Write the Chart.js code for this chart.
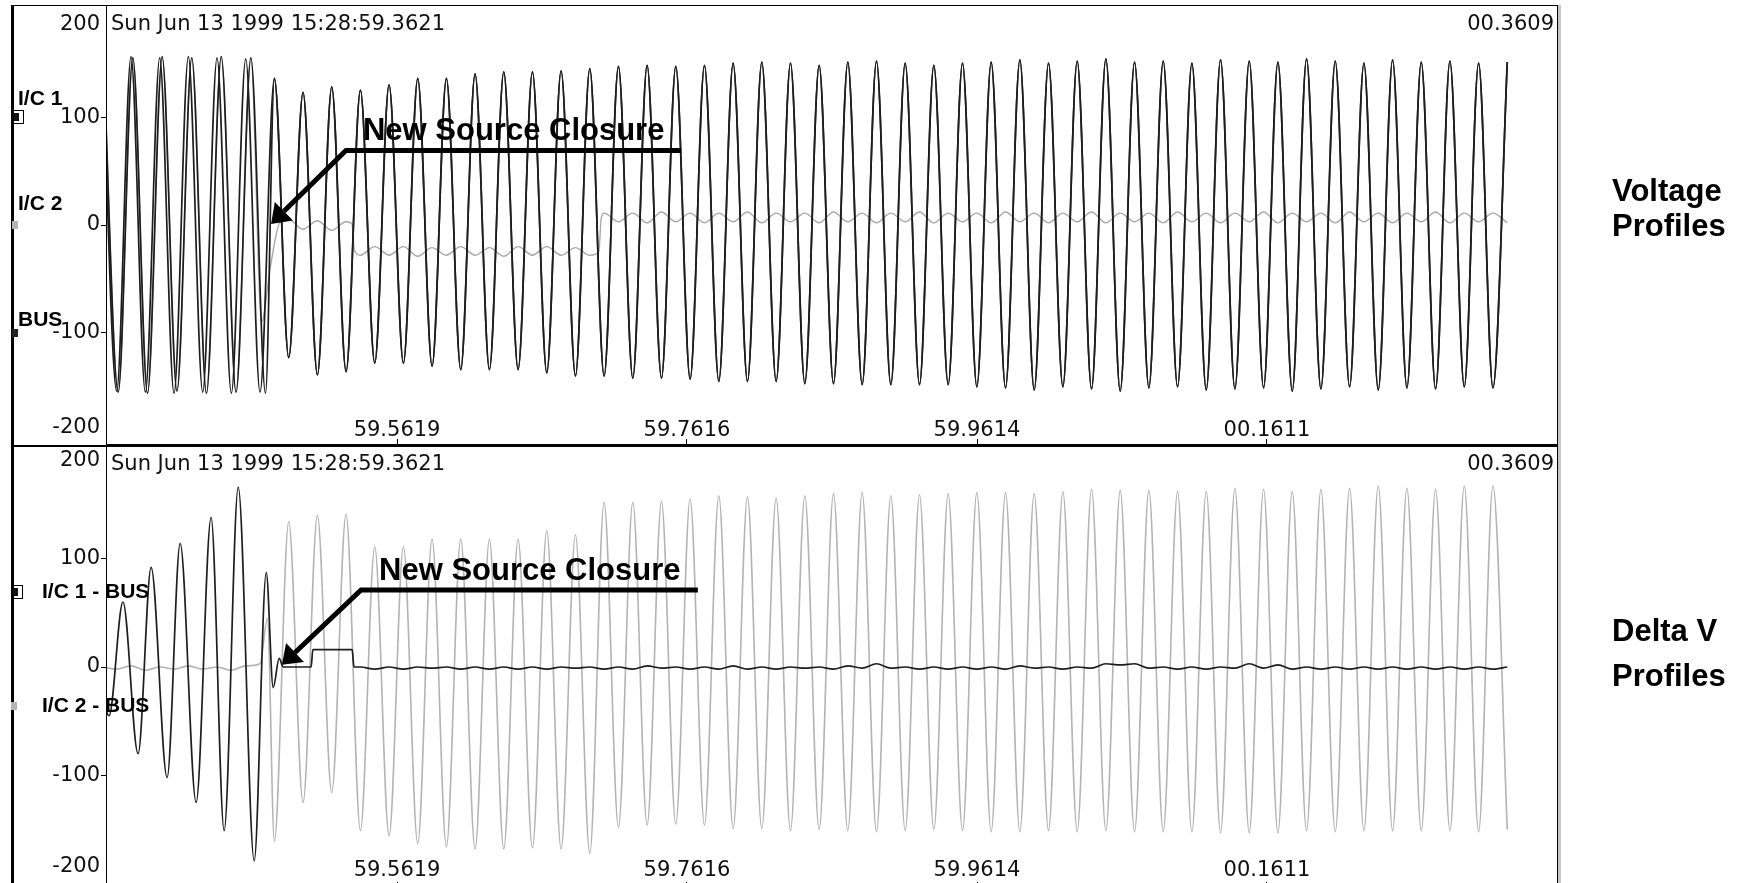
<!DOCTYPE html>
<html>
<head>
<meta charset="utf-8">
<title>Voltage and Delta V profiles</title>
<script src="https://cdn.jsdelivr.net/npm/chart.js@4.4.1/dist/chart.umd.min.js"></script>
<style>
  html, body { margin: 0; padding: 0; background: #fff; overflow: hidden; }
  body { width: 1737px; height: 883px; position: relative; }
  .panel { position: absolute; left: 0; width: 1737px; height: 445px; }
  #top { top: 0; }
  #bottom { top: 444px; }
  .side { position: absolute; left: 1612px; font: bold 31px 'Liberation Sans', Arial, sans-serif; color: #000; }
</style>
</head>
<body>
<div class="panel" id="top"><canvas id="voltage"></canvas></div>
<div class="panel" id="bottom"><canvas id="delta"></canvas></div>
<div class="side" style="top: 173px; line-height: 35px">Voltage<br>Profiles</div>
<div class="side" style="top: 608px; line-height: 45px">Delta V<br>Profiles</div>

<script>
Chart.defaults.font.family = "'DejaVu Sans', sans-serif";

// time axis in ms after 15:28:59.3621
const X_MIN = 0, X_MAX = 998.8;
const Y_MIN = -203, Y_MAX = 203;
// crests and troughs sit on a half-cycle grid: first I/C 1 crest, spacing
const T0 = -3.2, HALF = 9.875;

const xTickValues = [199.8, 399.5, 599.3, 799.0];
const xTickLabels = ['59.5619', '59.7616', '59.9614', '00.1611'];
const yTickValues = [-100, 0, 100];
const yEdgeValues = [200, -200];
const headerLeft = 'Sun Jun 13 1999 15:28:59.3621';
const headerRight = '00.3609';
const closureText = 'New Source Closure';

// I/C 1 crest/trough values, one per half cycle (k = 0..98)
const ic1Values = [
  155, -154, 156, -155, 155, -156, 156, -155, 155, -156, 154, -155,
  136, -123, 123, -139, 128, -136, 125, -128, 130, -128,
  136, -131, 136, -134, 140, -134, 142, -134, 142, -137,
  143, -140, 145, -140, 147, -142, 148, -142, 147, -143,
  148, -145, 150, -145, 151, -145, 150, -147, 148, -147,
  151, -148, 152, -148, 150, -148, 148, -148, 150, -150,
  151, -151, 153, -153, 150, -150, 152, -152, 154, -154,
  151, -151, 152, -150, 150, -153, 153, -152, 152, -151,
  151, -154, 154, -152, 152, -150, 150, -153, 153, -151,
  151, -152, 152, -150, 150, -151, 151
];

// BUS before closure lags I/C 1 a little more every cycle
const busPreTimes = [-2.4, 7.7, 17.8, 27.9, 38.0, 48.2, 58.4, 68.5, 78.7, 88.9, 99.1, 109.2];
const busPreValues = [154, -155, 155, -156, 156, -154, 155, -156, 156, -155, 155, -156];

// I/C 2 leaves the bus at closure, then small ripple with two level steps
const ic2TransTimes = [106.5, 112.5, 119.0, 168.8, 170.3, 338.8, 340.4];
const ic2TransValues = [-90, -39, 2, 1, -23, -25, 6];
const ic2Values = [ // k = 13..98
  5, -4, 4, -5, 3,
  -28, -20, -28, -20, -29, -21, -28, -20, -28, -21, -29, -20, -28, -20, -28, -21, -28,
  11, 3, 11, 2, 12, 3, 11, 2, 11, 3, 12, 2, 11, 3, 11, 2, 12, 3, 11, 2, 11, 3, 12, 2, 11, 3, 11, 2, 12, 3, 11, 2,
  11, 3, 12, 2, 11, 3, 11, 2, 12, 3, 11, 2, 11, 3, 12, 2, 11, 3, 11, 2, 12, 3, 11, 2, 11, 3, 12, 2, 11, 3, 11, 2
];

// I/C 1 - BUS: growing beat before closure, then almost flat
const diff1PreTimes = [-8.6, 1.4, 11.0, 21.4, 30.4, 41.4, 50.4, 61.4, 71.7, 80.7, 90.4, 101.4,
  109.7, 114.5, 118.6, 121.4, 140.6, 141.8, 168.9, 170.1];
const diff1PreValues = [30, -45, 60, -80, 92, -102, 114, -125, 138, -151, 166, -179,
  87, -19, 8, 0, 0, 16, 16, 0];
const diff1Values = [ // k = 18..98
  0, -2, 0, -2, 0, -1, 0, -2, 0, -2,
  0, -2, 0, -2, 0, -1, 0, -2, 0, -2,
  1, -1, 0, -2, 0, -2, 1, -2, 0, -2,
  0, -1, 0, -2, 1, -1, 3, -1, 0, -2,
  0, -2, 0, -2, 0, -2, 1, -1, 0, -2,
  0, -1, 3, 2, 3, -1, 0, -2, 0, -2,
  0, -1, 3, -1, 2, -2, 0, -2, 0, -2,
  0, -2, 0, -2, 0, -2, 0, -2, 0, -2,
  0
];

// I/C 2 - BUS: flat before closure, full swing after
const diff2SpikeTimes = [110.5];
const diff2SpikeValues = [45];
const diff2Values = [ // k = 0..98
  0, -2, 1, -3, 0, -2, 1, -2, 0, -3, 1, 3,
  -161, 134, -125, 140, -116, 141, -151, 111, -156, 111,
  -163, 118, -166, 118, -168, 118, -168, 118, -167, 126,
  -168, 122, -172, 152, -148, 152, -146, 153, -145, 155,
  -146, 158, -149, 157, -149, 156, -151, 158, -150, 160,
  -151, 161, -152, 158, -151, 159, -150, 160, -151, 161,
  -152, 161, -152, 160, -151, 162, -152, 164, -151, 163,
  -152, 163, -152, 162, -152, 162, -153, 165, -153, 164,
  -153, 162, -151, 164, -152, 165, -151, 167, -151, 165,
  -151, 164, -151, 167, -152, 167, -150
];

function gridPoints(values, firstK) {
  return values.map((v, i) => ({ x: T0 + (firstK + i) * HALF, y: v }));
}
function listPoints(times, values) {
  return times.map((t, i) => ({ x: t, y: values[i] }));
}
function byX(points) {
  return points.sort((a, b) => a.x - b.x);
}

const ic1Data = gridPoints(ic1Values, 0);
const busData = byX([...listPoints(busPreTimes, busPreValues), ...gridPoints(ic1Values.slice(12), 12)]);
const ic2Data = byX([
  ...listPoints(busPreTimes.slice(0, 11), busPreValues.slice(0, 11)),
  ...listPoints(ic2TransTimes, ic2TransValues),
  ...gridPoints(ic2Values, 13)
]);
const diff1Data = byX([...listPoints(diff1PreTimes, diff1PreValues), ...gridPoints(diff1Values, 18)]);
const diff2Data = byX([...gridPoints(diff2Values, 0), ...listPoints(diff2SpikeTimes, diff2SpikeValues)]);

const DARK = '#1e1e1e';
const tickFont = { size: 21 };

function drawMarker(ctx, kind, x, y) {
  if (kind === 'box') {
    ctx.strokeStyle = '#000';
    ctx.lineWidth = 1;
    ctx.strokeRect(x + 0.5, Math.round(y) - 6.5, 11, 13);
    ctx.fillStyle = '#111';
    ctx.fillRect(x + 2, Math.round(y) - 4, 5, 8);
  } else {
    ctx.fillStyle = kind === 'gray' ? '#b5b5b5' : '#222';
    ctx.fillRect(x, Math.round(y) - 4, 6, 8);
  }
}

const decor = {
  id: 'decor',
  afterDatasetsDraw(chart, args, o) {
    const ctx = chart.ctx, xs = chart.scales.x, ys = chart.scales.y;
    const px = p => [xs.getPixelForValue(p[0]), ys.getPixelForValue(p[1])];
    const end = px(o.arrow.end), elbow = px(o.arrow.elbow), tip = px(o.arrow.tip);
    const ang = Math.atan2(tip[1] - elbow[1], tip[0] - elbow[0]);
    const head = 18, half = 13;
    const base = [tip[0] - head * Math.cos(ang), tip[1] - head * Math.sin(ang)];
    ctx.save();
    ctx.strokeStyle = '#000';
    ctx.fillStyle = '#000';
    ctx.lineWidth = 5;
    ctx.beginPath();
    ctx.moveTo(end[0], end[1]);
    ctx.lineTo(elbow[0], elbow[1]);
    ctx.lineTo(base[0], base[1]);
    ctx.stroke();
    ctx.beginPath();
    ctx.moveTo(tip[0], tip[1]);
    ctx.lineTo(base[0] + half * Math.sin(ang), base[1] - half * Math.cos(ang));
    ctx.lineTo(base[0] - half * Math.sin(ang), base[1] + half * Math.cos(ang));
    ctx.closePath();
    ctx.fill();
    const lp = px(o.arrow.label);
    ctx.font = "bold 31px 'Liberation Sans', Arial";
    ctx.textAlign = 'left';
    ctx.textBaseline = 'middle';
    ctx.fillText(closureText, lp[0], lp[1]);
    ctx.restore();
  },
  afterDraw(chart, args, o) {
    const ctx = chart.ctx, a = chart.chartArea, ys = chart.scales.y;
    ctx.save();
    // plot frame, shadow and outer rules
    ctx.fillStyle = '#c6c6c6';
    ctx.fillRect(a.right + 1, a.top - o.topRule, 3, a.bottom - a.top + o.topRule + 1);
    ctx.strokeStyle = '#000';
    ctx.lineWidth = 1;
    ctx.strokeRect(a.left - 0.5, a.top - 0.5, a.right - a.left + 1, a.bottom - a.top + 1);
    ctx.fillStyle = '#000';
    ctx.fillRect(11, a.top - o.topRule, a.right - 10, o.topRule);
    ctx.fillRect(11, a.top - o.topRule, 3, chart.height);

    ctx.fillStyle = '#111';
    ctx.font = "21px 'DejaVu Sans'";
    ctx.textBaseline = 'middle';
    ctx.textAlign = 'left';
    ctx.fillText(headerLeft, a.left + 4, a.top + o.headerDy);
    ctx.textAlign = 'right';
    ctx.fillText(headerRight, a.right - 3, a.top + o.headerDy);
    yEdgeValues.forEach((v, i) => {
      ctx.fillText(String(v), a.left - 7, ys.getPixelForValue(v) + o.edgeDy[i]);
    });

    ctx.font = "bold 21px 'Liberation Sans', Arial";
    ctx.textAlign = 'left';
    o.legend.forEach(item => {
      ctx.fillStyle = '#000';
      ctx.fillText(item.text, o.legendTextX, ys.getPixelForValue(item.textAt));
      drawMarker(ctx, item.mark, o.legendMarkX, ys.getPixelForValue(item.markAt));
    });
    ctx.restore();
  }
};

function panelOptions(cfg) {
  return {
    responsive: true,
    maintainAspectRatio: false,
    animation: false,
    events: [],
    layout: { padding: { top: cfg.padTop, right: 180, bottom: cfg.padBottom, left: 0 } },
    elements: {
      point: { radius: 0 },
      line: { cubicInterpolationMode: 'monotone', borderJoinStyle: 'round', fill: false }
    },
    plugins: {
      legend: { display: false },
      tooltip: { enabled: false },
      decor: cfg.decor
    },
    scales: {
      x: {
        type: 'linear',
        min: X_MIN,
        max: X_MAX,
        position: { y: Y_MIN },
        afterBuildTicks: s => { s.ticks = xTickValues.map(v => ({ value: v })); },
        grid: { drawOnChartArea: false, tickLength: -5, color: '#000' },
        border: { display: false },
        ticks: {
          autoSkip: false,
          maxRotation: 0,
          padding: cfg.xLabelPad,
          color: '#111',
          font: tickFont,
          callback: (v, i) => xTickLabels[i]
        }
      },
      y: {
        min: Y_MIN,
        max: Y_MAX,
        afterBuildTicks: s => { s.ticks = yTickValues.map(v => ({ value: v })); },
        afterFit: s => { s.width = 107; s.paddingTop = 0; s.paddingBottom = 0; },
        grid: { drawOnChartArea: false, tickLength: 6, color: '#000' },
        border: { display: false },
        ticks: { padding: 1, color: '#111', font: tickFont, callback: v => String(v) }
      }
    }
  };
}

new Chart(document.getElementById('voltage'), {
  type: 'line',
  data: {
    datasets: [
      { label: 'I/C 1', data: ic1Data, borderColor: DARK, borderWidth: 1.7 },
      { label: 'BUS', data: busData, borderColor: DARK, borderWidth: 1.7 },
      { label: 'I/C 2', data: ic2Data, borderColor: '#a9a9a9', borderWidth: 1.4 }
    ]
  },
  options: panelOptions({
    padTop: 6,
    padBottom: 1,
    xLabelPad: -21,
    decor: {
      topRule: 1,
      headerDy: 19,
      edgeDy: [15, -13],
      legendTextX: 18,
      legendMarkX: 12,
      legend: [
        { text: 'I/C 1', textAt: 117, markAt: 100, mark: 'box' },
        { text: 'I/C 2', textAt: 19, markAt: 0, mark: 'gray' },
        { text: 'BUS', textAt: -88, markAt: -100, mark: 'dark' }
      ],
      arrow: { tip: [113, 1], elbow: [164.6, 69], end: [395.4, 69], label: [176.3, 87] }
    }
  }),
  plugins: [decor]
});

new Chart(document.getElementById('delta'), {
  type: 'line',
  data: {
    datasets: [
      { label: 'I/C 1 - BUS', data: diff1Data, borderColor: DARK, borderWidth: 1.7 },
      { label: 'I/C 2 - BUS', data: diff2Data, borderColor: '#b3b3b3', borderWidth: 1.6 }
    ]
  },
  options: panelOptions({
    padTop: 3,
    padBottom: 2,
    xLabelPad: -24,
    decor: {
      topRule: 2,
      headerDy: 18,
      edgeDy: [10, -17],
      legendTextX: 42,
      legendMarkX: 11,
      legend: [
        { text: 'I/C 1 - BUS', textAt: 69, markAt: 69, mark: 'box' },
        { text: 'I/C 2 - BUS', textAt: -36, markAt: -36, mark: 'gray' }
      ],
      arrow: { tip: [120.5, 2], elbow: [175, 71], end: [407, 71], label: [187.4, 88] }
    }
  }),
  plugins: [decor]
});
</script>
</body>
</html>
